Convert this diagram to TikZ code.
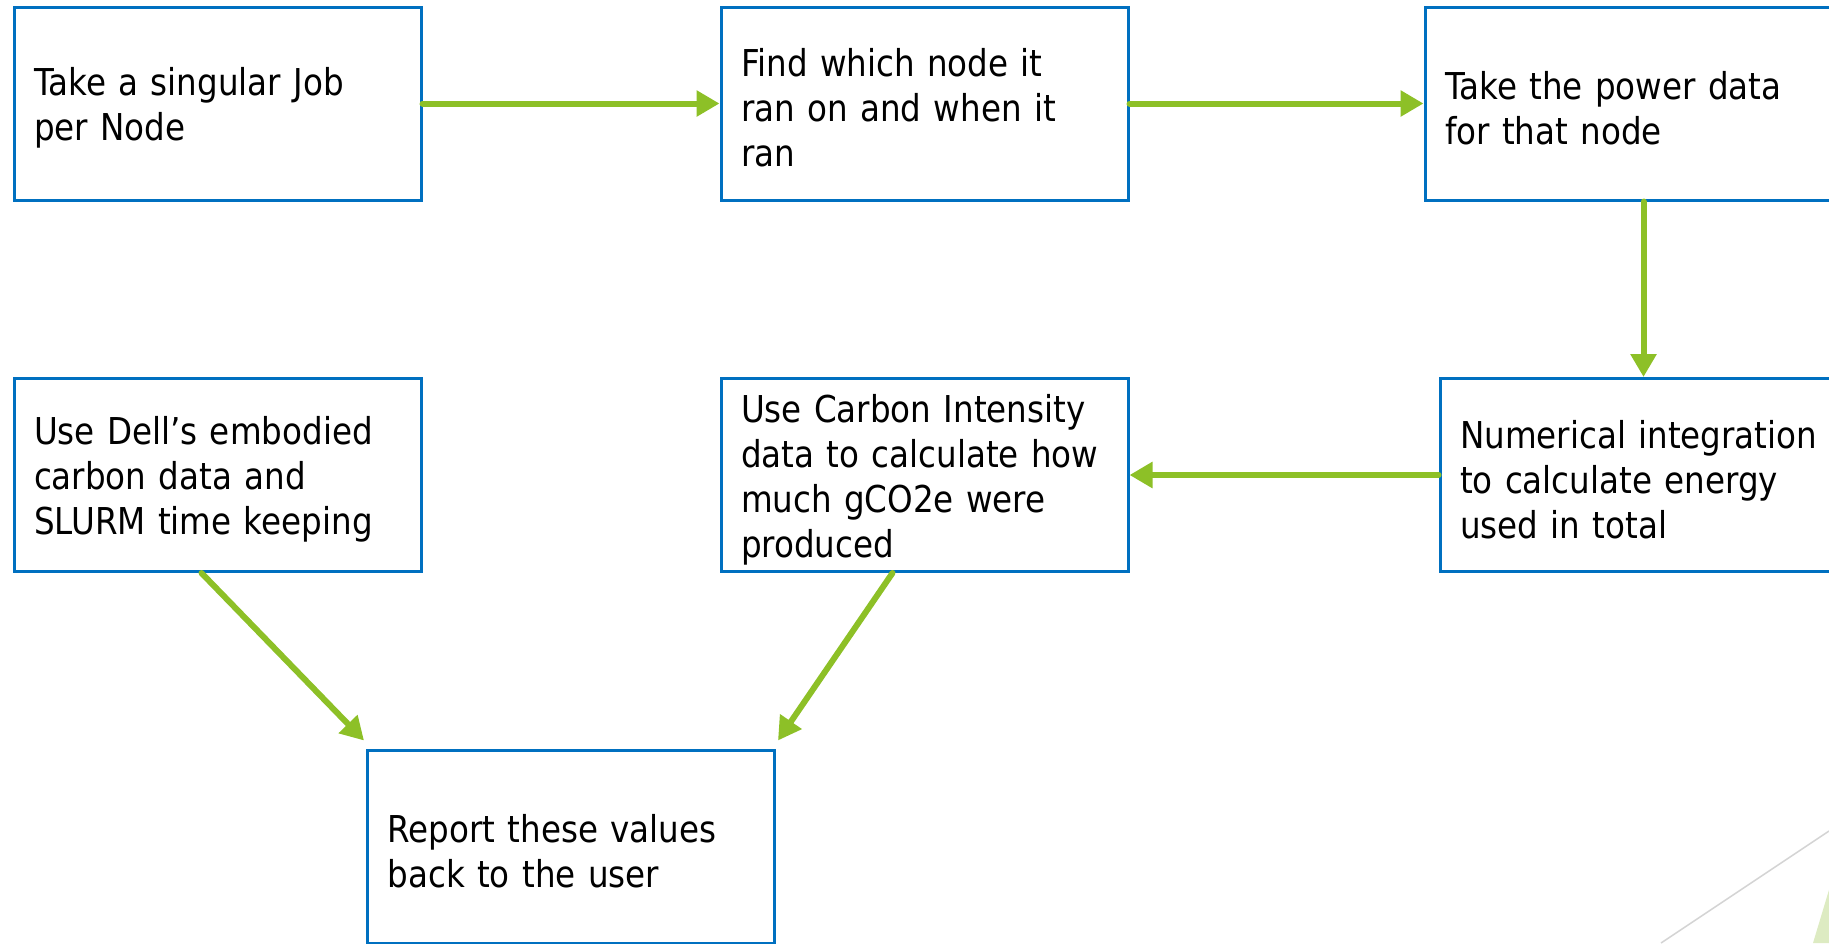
\documentclass[tikz,border=0pt]{standalone}
\usepackage{fontspec}
\setmainfont{DejaVu Sans}[FakeStretch=0.88]
\usetikzlibrary{arrows.meta,calc}
\definecolor{boxblue}{HTML}{0070C0}
\definecolor{flowgreen}{HTML}{8DC027}
\definecolor{cornergreen}{HTML}{DDEBC2}
\definecolor{cornergrey}{HTML}{D4D4D4}
\tikzset{
    stepbox/.style={draw=boxblue, line width=1.5pt, rectangle,
        minimum width=203.5pt, minimum height=96.5pt,
        text width=183.5pt, inner xsep=10pt, inner ysep=2pt, align=left,
        font=\fontsize{18.5pt}{22.5pt}\selectfont,
        execute at begin node={\rule{0pt}{18.5pt}}},
    flow/.style={draw=flowgreen, line width=3pt, line cap=round,
        -{Triangle[length=11.5pt,width=12.5pt]}},
}

\begin{document}
\begin{tikzpicture}[x=0.5pt,y=-0.5pt]
\useasboundingbox (0,0) rectangle (1829,943);
\clip (0,0) rectangle (1829,943);

% corner decoration
\fill [cornergreen] (1813,943) -- (1850,820) -- (1850,943) -- cycle;
\draw [cornergrey, line width=0.75pt] (1661,943) -- (1829,831);

\node[stepbox] (job) at (217.5,103.5) {Take a singular Job\\per Node};
\node[stepbox] (where) at (924.5,103.5) {Find which node it\\ran on and when it\\ran};
\node[stepbox] (power) at (1628.5,103.5) {Take the power data\\for that node};

\node[stepbox] (embodied) at (217.5,475) {Use Dell’s embodied\\carbon data and\\SLURM time keeping};
\node[stepbox] (carbon) at (924.5,475) {Use Carbon Intensity\\data to calculate how\\much gCO2e were\\produced};
\node[stepbox] (energy) at (1643.5,475) {Numerical integration\\to calculate energy\\used in total};

\node[stepbox] (report) at (571,846.5) {Report these values\\back to the user};

\draw [flow] (job) -- (where);
\draw [flow] (where) -- (power);
\draw [flow] (energy.north |- power.south) -- (energy);
\draw [flow] (energy) -- (carbon);
\draw [flow] ($(embodied.south)+(-16,0)$) -- ($(report.north west)+(-2,-8)$);
\draw [flow] ($(carbon.south)+(-32,0)$) -- ($(report.north east)+(2,-8)$);

\end{tikzpicture}
\end{document}
